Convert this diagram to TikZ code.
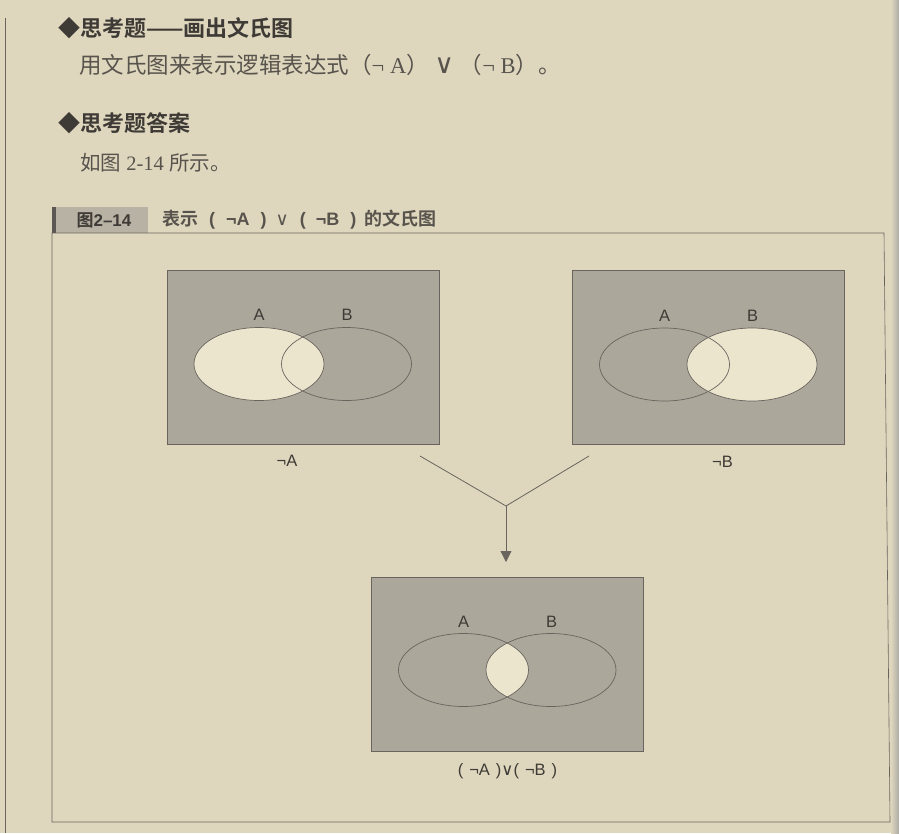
\documentclass[tikz,border=0pt]{standalone}
\usepackage{fontspec}
\setmainfont{Liberation Serif}
\newfontfamily\cjk{Noto Sans CJK SC}[BoldFont={Noto Sans CJK SC Bold}]
\newfontfamily\symf{DejaVu Sans}
\newfontfamily\lab{Liberation Sans}
\usetikzlibrary{arrows.meta}
\definecolor{paper}{RGB}{222,214,189}
\definecolor{panelgray}{RGB}{172,167,155}
\definecolor{holecol}{RGB}{236,229,206}
\definecolor{linecol}{RGB}{105,101,94}
\definecolor{textcol}{RGB}{62,58,53}
\definecolor{bodycol}{RGB}{88,84,77}
\definecolor{barcol}{RGB}{184,178,164}

\begin{document}
\begin{tikzpicture}[x=1pt, y=-1pt,
  panel/.style={fill=panelgray, draw=linecol, line width=0.6pt},
  hole/.style={fill=holecol},
  setline/.style={draw=linecol, line width=0.7pt},
  setlab/.style={font=\lab\fontsize{16.5}{16.5}\selectfont, text=textcol, inner sep=0pt},
  link/.style={draw=linecol, line width=0.8pt},
  heading/.style={anchor=west, inner sep=0pt, text=textcol,
    font=\cjk\bfseries\fontsize{22}{24}\selectfont},
  bodytext/.style={anchor=west, inner sep=0pt, text=bodycol}]
  % page and bounding box
  \fill[paper] (0,0) rectangle (899,833);
  \useasboundingbox (0,0) rectangle (899,833);
  \shade[left color=paper, right color=linecol!55] (891,0) rectangle (899,833);
  \draw[linecol, line width=0.6pt] (5,18) -- (5,833);
  % question and answer text
  \node[heading] (q) at (58,28) {◆思考题——画出文氏图};
  \node[bodytext, font=\fontsize{22.5}{24}\selectfont] (qtext) at (79,65)
    {{\cjk 用文氏图来表示逻辑表达式（}¬\ A{\cjk ）}\ {\symf\fontsize{27}{27}\selectfont ∨}\ {\cjk （}¬\ B{\cjk ）。}};
  \node[heading] (ans) at (58,123) {◆思考题答案};
  \node[bodytext, font=\fontsize{20.5}{22}\selectfont] (atext) at (80,163)
    {{\cjk 如图} 2-14 {\cjk 所示。}};
  % figure caption bar and frame
  \fill[barcol] (52,207) rectangle (148,233);
  \fill[textcol!85] (52,207) rectangle (55.5,233);
  \node[inner sep=0pt, text=textcol, font=\lab\bfseries\fontsize{17}{17}\selectfont]
    (fignum) at (104,220) {{\cjk 图}2–14};
  \node[anchor=west, inner sep=0pt, text=bodycol, font=\cjk\bfseries\fontsize{18}{18}\selectfont]
    (figcap) at (162,220) {表示{\lab\hspace{11pt}(\hspace{11pt}¬A\hspace{11pt})\hspace{9pt}{\symf\mdseries ∨}\hspace{11pt}(\hspace{10pt}¬B\hspace{11pt})\hspace{8pt}}的文氏图};
  \draw[linecol, line width=0.6pt] (52,233) -- (884,233) -- (890,822) -- (52,822) -- cycle;
  % panel not A
  \begin{scope}[shift={(303,357)}]
    \path[panel] (-136,-87) rectangle (136,87);
    \fill[hole] (-44,7) ellipse (65 and 36.5);
    \draw[setline] (-44,7) ellipse (65 and 36.5);
    \draw[setline] (43.5,7) ellipse (65 and 36.5);
    \node[setlab] (a1) at (-44,-42) {A};
    \node[setlab] (b1) at (44,-42) {B};
    \node[setlab] (notA) at (-16,104) {¬A};
  \end{scope}
  % panel not B
  \begin{scope}[shift={(708.5,357.5)}]
    \path[panel] (-136,-87) rectangle (136,87);
    \fill[hole] (43.5,7) ellipse (65 and 36.5);
    \draw[setline] (-44,7) ellipse (65 and 36.5);
    \draw[setline] (43.5,7) ellipse (65 and 36.5);
    \node[setlab] (a2) at (-44,-42) {A};
    \node[setlab] (b2) at (44,-42) {B};
    \node[setlab] (notB) at (14,104) {¬B};
  \end{scope}
  % panel (not A) or (not B)
  \begin{scope}[shift={(507.5,664)}]
    \path[panel] (-136,-87) rectangle (136,87);
    \begin{scope}
      \clip (-44,6) ellipse (65 and 36.5);
      \fill[hole] (43.5,6) ellipse (65 and 36.5);
    \end{scope}
    \draw[setline] (-44,6) ellipse (65 and 36.5);
    \draw[setline] (43.5,6) ellipse (65 and 36.5);
    \node[setlab] (a3) at (-44,-42) {A};
    \node[setlab] (b3) at (44,-42) {B};
    \node[setlab] (orAB) at (0,107)
      {(\hspace{6pt}¬A\hspace{6pt}){\symf ∨}(\hspace{6pt}¬B\hspace{6pt})};
  \end{scope}
  % merging arrow
  \coordinate (fromA) at (420,456);
  \coordinate (fromB) at (589,456);
  \coordinate (join) at (506,506);
  \coordinate (tip) at (506,562);
  \draw[link] (fromA) -- (join) -- (fromB);
  \draw[link, -{Triangle[length=11pt, width=11pt]}] (join) -- (tip);
\end{tikzpicture}
\end{document}
